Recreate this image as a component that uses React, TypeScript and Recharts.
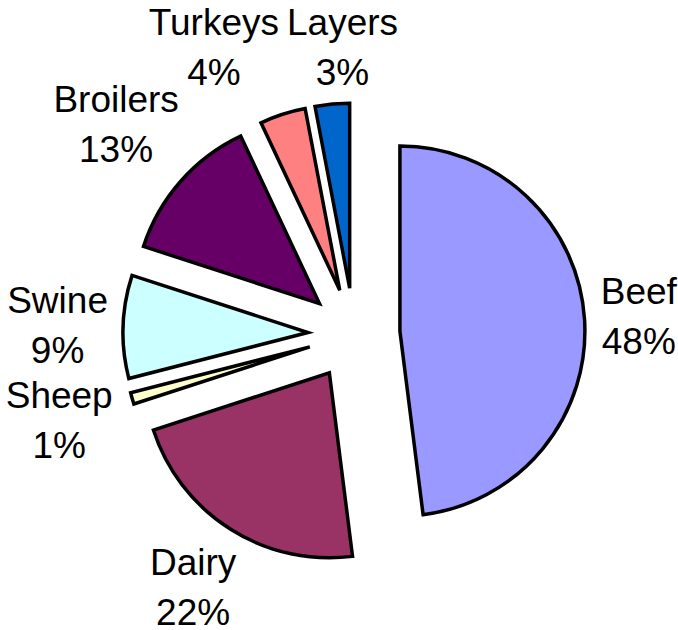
import React from 'react';
import { PieChart, Pie, Cell } from 'recharts';

const categories = ['Beef', 'Dairy', 'Sheep', 'Swine', 'Broilers', 'Turkeys', 'Layers'];
const shares = [48, 22, 1, 9, 13, 4, 3];
const colors = ['#9999FF', '#993366', '#FFFFCC', '#CCFFFF', '#660066', '#FF8080', '#0066CC'];

const W = 678;
const H = 630;
const CX = 354;
const CY = 334;
const R = 185;
const EXPLODE = 46;
const FONT_SIZE = 37;
const LINE_GAP = 50;
const LABEL_R = 245;
const FONT_FAMILY = "'Liberation Sans', Arial, sans-serif";

const data = categories.map((name, i) => ({ name, value: shares[i] }));
const total = shares.reduce((a, b) => a + b, 0);

const RAD = Math.PI / 180;

function midAngleOf(i: number): number {
  let cum = 0;
  for (let k = 0; k < i; k++) cum += shares[k];
  const start = 90 - (360 * cum) / total;
  const end = 90 - (360 * (cum + shares[i])) / total;
  return (start + end) / 2;
}

function pctText(i: number): string {
  return `${Math.round((shares[i] / total) * 100)}%`;
}

let measureCtx: CanvasRenderingContext2D | null = null;
function textWidth(s: string): number {
  if (!measureCtx) {
    const c = document.createElement('canvas');
    measureCtx = c.getContext('2d');
  }
  if (!measureCtx) return s.length * FONT_SIZE * 0.55;
  measureCtx.font = `${FONT_SIZE}px ${FONT_FAMILY}`;
  return measureCtx.measureText(s).width;
}

type Box = { x: number; y: number; hw: number; hh: number };

function computeLabelBoxes(): Box[] {
  const boxes: Box[] = [];
  const hh = 38;
  for (let i = 0; i < categories.length; i++) {
    const mid = midAngleOf(i);
    const ux = Math.cos(mid * RAD);
    const uy = -Math.sin(mid * RAD);
    const hw = Math.max(textWidth(categories[i]), textWidth(pctText(i))) / 2;
    // box support distance along the ray
    const s = LABEL_R + hw * Math.abs(ux) + hh * Math.abs(uy);
    boxes.push({ x: CX + s * ux, y: CY + s * uy, hw, hh });
  }
  // resolve overlaps of the visible text, processing from last to first
  const textHalfH = 33;
  const placed: number[] = [];
  for (let i = categories.length - 1; i >= 0; i--) {
    const b = boxes[i];
    for (const j of placed) {
      const o = boxes[j];
      const overlapX = b.hw + o.hw + 8 - Math.abs(b.x - o.x);
      const overlapY = 2 * textHalfH - Math.abs(b.y - o.y);
      if (overlapX > 0 && overlapY > 0) {
        const dir = b.x < o.x ? -1 : 1;
        b.x += dir * overlapX * 0.75;
        o.x -= dir * overlapX * 0.25;
      }
    }
    placed.push(i);
  }
  return boxes;
}

export default function App() {
  const boxes = computeLabelBoxes();
  return (
    <div style={{ position: 'absolute', left: 0, top: 0, width: W, height: H, background: '#fff' }}>
      <PieChart width={W} height={H} margin={{ top: 0, right: 0, bottom: 0, left: 0 }}>
        {categories.map((cat, i) => {
          const mid = midAngleOf(i);
          const dx = Math.cos(mid * RAD) * EXPLODE;
          const dy = -Math.sin(mid * RAD) * EXPLODE;
          const b = boxes[i];
          return (
            <Pie
              key={cat}
              data={data}
              dataKey="value"
              nameKey="name"
              cx={CX + dx}
              cy={CY + dy}
              innerRadius={0}
              outerRadius={R}
              startAngle={90}
              endAngle={-270}
              isAnimationActive={false}
              labelLine={false}
              label={(p: any) =>
                p.index === i ? (
                  <g>
                    <text
                      x={b.x}
                      y={b.y - 12}
                      textAnchor="middle"
                      fontSize={FONT_SIZE}
                      fontFamily={FONT_FAMILY}
                      fill="#000"
                    >
                      {cat}
                    </text>
                    <text
                      x={b.x}
                      y={b.y - 12 + LINE_GAP}
                      textAnchor="middle"
                      fontSize={FONT_SIZE}
                      fontFamily={FONT_FAMILY}
                      fill="#000"
                    >
                      {pctText(i)}
                    </text>
                  </g>
                ) : null
              }
            >
              {data.map((d, k) => (
                <Cell
                  key={d.name}
                  fill={k === i ? colors[k] : 'none'}
                  stroke={k === i ? '#000' : 'none'}
                  strokeWidth={k === i ? 3.5 : 0}
                />
              ))}
            </Pie>
          );
        })}
      </PieChart>
    </div>
  );
}
